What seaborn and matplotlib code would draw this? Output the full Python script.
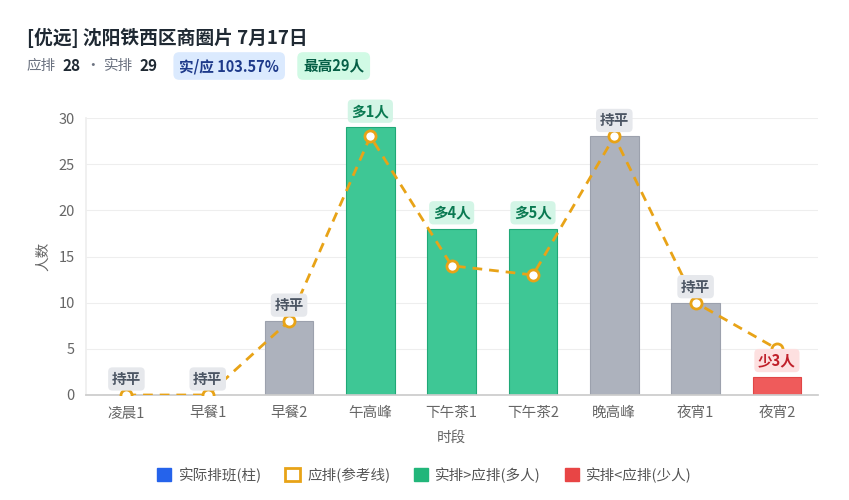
import numpy as np
import matplotlib.pyplot as plt
import seaborn as sns
from matplotlib.patches import Patch

# data
slots = ['凌晨1', '早餐1', '早餐2', '午高峰', '下午茶1', '下午茶2', '晚高峰', '夜宵1', '夜宵2']
actual = [0, 0, 8, 29, 18, 18, 28, 10, 2]
expected = [0, 0, 8, 28, 14, 13, 28, 10, 5]

title = '[优远] 沈阳铁西区商圈片 7月17日'
expected_total = 28
actual_total = 29
ratio_text = '实/应 103.57%'
peak_text = '最高29人'

GREEN = '#3ec795'
GRAY = '#adb2bd'
RED = '#ef5b5b'
ORANGE = '#e8a317'
BLUE = '#2563eb'

sns.set_theme(style='white')
plt.rcParams['font.family'] = ['Noto Sans CJK SC', 'DejaVu Sans']

fig = plt.figure(figsize=(8.49, 5), dpi=100)
ax = fig.add_axes([0.101, 0.21, 0.862, 0.554])

diff = [a - e for a, e in zip(actual, expected)]
bar_colors = [GREEN if d > 0 else RED if d < 0 else GRAY for d in diff]
edge_colors = ['#20a877' if d > 0 else '#e04646' if d < 0 else '#9ca1ad' for d in diff]

sns.barplot(x=slots, y=actual, hue=slots, palette=bar_colors, legend=False,
            width=0.6, ax=ax, saturation=1)
for p, ec in zip(ax.patches, edge_colors):
    p.set_edgecolor(ec)
    p.set_linewidth(0.8)

sns.lineplot(x=slots, y=expected, sort=False, ax=ax, color=ORANGE, lw=2,
             ls=(0, (3.5, 2.5)), marker='o', markersize=8, markerfacecolor='white',
             markeredgecolor=ORANGE, markeredgewidth=2, zorder=5)

# badges above each bar
for i, d in enumerate(diff):
    if d > 0:
        txt, fc, tc = f'多{d}人', '#d3f5e6', '#0a7a52'
    elif d < 0:
        txt, fc, tc = f'少{-d}人', '#fde0e0', '#c0202a'
    else:
        txt, fc, tc = '持平', '#e6e8ec', '#4b5563'
    ax.annotate(txt, (i, actual[i]), xytext=(0, 16), textcoords='offset pixels',
                ha='center', va='center', fontsize=10.5, fontweight='bold', color=tc,
                bbox=dict(boxstyle='round,pad=0.25,rounding_size=0.3', fc=fc, ec='none'),
                zorder=6)

ax.set_ylim(0, 30)
ax.set_xlim(-0.5, len(slots) - 0.5)
ax.set_yticks(range(0, 31, 5))
ax.yaxis.grid(True, color='#eeeeee', lw=0.8)
ax.set_axisbelow(True)
for s in ['top', 'right']:
    ax.spines[s].set_visible(False)
ax.spines['left'].set_color('#eeeeee')
ax.spines['bottom'].set_color('#cccccc')
ax.tick_params(axis='both', labelsize=10.5, colors='#666666', length=0, pad=8)
ax.set_xlabel('时段', fontsize=10.5, color='#666666', labelpad=8)
ax.set_ylabel('人数', fontsize=10.5, color='#666666', labelpad=6)

# header
fig.text(27 / 849, 1 - 38 / 500, title, fontsize=13.5, fontweight='bold',
         color='#1f2933', va='center')

# subtitle pieces laid out left to right: (text, style, gap before in px, badge colour)
renderer = fig.canvas.get_renderer()
y2 = 1 - 66 / 500
pieces = [
    ('应排', dict(fontsize=10.5, color='#6b7280'), 27, None),
    (str(expected_total), dict(fontsize=11, fontweight='bold', color='#1f2933'), 6, None),
    ('·', dict(fontsize=10.5, color='#6b7280'), 5, None),
    ('实排', dict(fontsize=10.5, color='#6b7280'), 4, None),
    (str(actual_total), dict(fontsize=11, fontweight='bold', color='#1f2933'), 6, None),
    (ratio_text, dict(fontsize=10.5, fontweight='bold', color='#1e3a8a'), 22, '#dbeafe'),
    (peak_text, dict(fontsize=10.5, fontweight='bold', color='#065f46'), 24, '#d1fae5'),
]
x_px = 0
for txt, kw, gap, bg in pieces:
    x_px += gap
    t = fig.text(x_px / 849, y2, txt, va='center', **kw)
    if bg:
        t.set_bbox(dict(boxstyle='round,pad=0.4,rounding_size=0.4', fc=bg, ec='none'))
    x_px = t.get_window_extent(renderer).x1

# legend
handles = [
    Patch(fc=BLUE, ec=BLUE, label='实际排班(柱)'),
    Patch(fc='white', ec=ORANGE, lw=2, label='应排(参考线)'),
    Patch(fc='#22b67a', ec='#22b67a', label='实排>应排(多人)'),
    Patch(fc='#e84545', ec='#e84545', label='实排<应排(少人)'),
]
fig.legend(handles=handles, loc='center', bbox_to_anchor=(0.5, 1 - 475 / 500), ncol=4,
           frameon=False, fontsize=10.5, labelcolor='#555555', handlelength=1.0,
           handleheight=1.0, handletextpad=0.5, columnspacing=1.6)

fig.savefig('out.png', dpi=100)
